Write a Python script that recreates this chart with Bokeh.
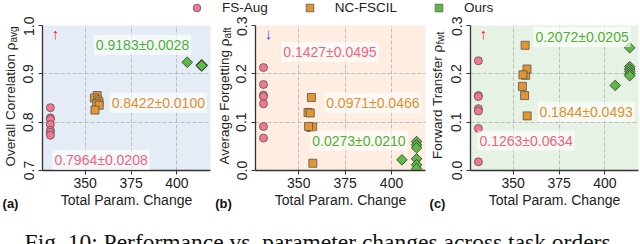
import math
from bokeh.plotting import figure
from bokeh.models import Range1d, Label, Legend, LegendItem, PrintfTickFormatter, FixedTicker
from bokeh.layouts import column, row
from bokeh.embed import file_html
from bokeh.resources import INLINE

# ---------------- data ----------------
methods = ["FS-Aug", "NC-FSCIL", "Ours"]
x_ticks = [350, 375, 400]
y_ticks_avg = [0.7, 0.8, 0.9, 1.0]
y_ticks_rate = [0.0, 0.1, 0.2, 0.3]

fsaug_param = [331.0, 331.0, 331.0, 331.0, 331.0, 331.0, 331.0]
ncfscil_param = [356.5, 355.0, 356.8, 357.5, 356.2, 357.6, 355.3]
ours_param = [405.6, 413.5, 413.5, 413.5, 413.5, 413.5, 413.5]

fsaug_avg = [0.830, 0.809, 0.806, 0.795, 0.783, 0.779, 0.773]
ncfscil_avg = [0.855, 0.850, 0.846, 0.842, 0.838, 0.835, 0.825]
ours_avg = [0.924, 0.919, 0.918, 0.917, 0.917, 0.916, 0.917]

fsaug_aft = [0.213, 0.178, 0.156, 0.153, 0.138, 0.091, 0.067]
ncfscil_aft = [0.089, 0.120, 0.151, 0.090, 0.119, 0.015, 0.091]
ours_aft = [0.022, 0.060, 0.053, 0.047, 0.024, 0.012, 0.004]

fsaug_fwt = [0.227, 0.155, 0.153, 0.128, 0.123, 0.087, 0.018]
ncfscil_fwt = [0.259, 0.174, 0.197, 0.210, 0.155, 0.113, 0.198]
ours_fwt = [0.176, 0.254, 0.215, 0.210, 0.205, 0.200, 0.196]

stats_avg = ["0.7964±0.0208", "0.8422±0.0100", "0.9183±0.0028"]
stats_aft = ["0.1427±0.0495", "0.0971±0.0466", "0.0273±0.0210"]
stats_fwt = ["0.1263±0.0634", "0.1844±0.0493", "0.2072±0.0205"]

caption = "Fig. 10: Performance vs. parameter changes across task orders."

# ---------------- style ----------------
FONT = "Liberation Sans"
PINK, ORANGE, GREEN = "#f4778f", "#e3962f", "#5dbb45"
PINK_T, ORANGE_T, GREEN_T = "#f0627f", "#e08f2e", "#4cb233"
EDGE = "#555555"
XR = (326.7, 418.3)
PH = 197          # panel figure height
TOP, BOT = 9, 40  # borders shared by every figure of the row
SW = 20           # width of the y-label strips
DIAMOND = math.pi / 4


def label_strip(ylab, ysub, junction, lx, tag):
    f = figure(width=SW, height=PH, x_range=Range1d(0, 1), y_range=Range1d(0, 1),
               output_backend="svg", toolbar_location=None,
               min_border_left=0, min_border_right=0,
               min_border_top=TOP, min_border_bottom=BOT,
               y_axis_location=None, outline_line_color=None)
    f.grid.visible = False
    ax = f.xaxis[0]
    ax.ticker = FixedTicker(ticks=[])
    ax.axis_line_color = None
    ax.major_tick_line_color = None
    ax.minor_tick_line_color = None
    ax.major_tick_out = 0
    ax.major_label_standoff = 0
    ax.axis_label = tag
    ax.axis_label_text_font = FONT
    ax.axis_label_text_font_size = "13px"
    ax.axis_label_text_font_style = "bold"
    ax.axis_label_text_color = "#111111"
    ax.axis_label_standoff = 25
    f.add_layout(Label(x=lx, y=junction, x_units="screen", y_units="screen",
                       text=ylab, angle=math.pi / 2, text_align="right",
                       text_baseline="middle", text_font=FONT, text_font_size="13.5px",
                       text_color="#222222"))
    f.add_layout(Label(x=lx + 3, y=junction, x_units="screen", y_units="screen",
                       text=ysub, angle=math.pi / 2, text_align="left",
                       text_baseline="middle", text_font=FONT, text_font_size="10px",
                       text_color="#222222"))
    return f


def panel(width, left, right, yr, yticks, bg, ys, stat_texts, stat_pos, arrow, arrow_color):
    p = figure(width=width, height=PH, x_range=Range1d(*XR), y_range=Range1d(*yr),
               output_backend="svg", toolbar_location=None,
               min_border_left=left, min_border_right=right,
               min_border_top=TOP, min_border_bottom=BOT,
               background_fill_color=bg, border_fill_color="white",
               outline_line_color=None)
    p.xaxis.ticker = x_ticks
    p.yaxis.ticker = yticks
    p.yaxis.formatter = PrintfTickFormatter(format="%.1f")
    p.xaxis.axis_label = "Total Param. Change"
    p.xaxis.axis_label_text_font = FONT
    p.xaxis.axis_label_text_font_style = "normal"
    p.xaxis.axis_label_text_font_size = "14px"
    p.xaxis.axis_label_text_color = "#222222"
    p.xaxis.axis_label_standoff = 1
    for ax in (p.xaxis, p.yaxis):
        ax.major_label_text_font = FONT
        ax.major_label_text_font_size = "14px"
        ax.major_label_text_color = "#222222"
        ax.major_label_standoff = 3
        ax.minor_tick_line_color = None
        ax.major_tick_in = 0
        ax.major_tick_out = 4
        ax.axis_line_color = "#333333"
        ax.axis_line_width = 1.3
        ax.major_tick_line_color = "#333333"
    p.yaxis.major_label_orientation = "vertical"
    p.yaxis.major_label_standoff = 5
    p.grid.grid_line_color = "#bdbdbd"
    p.grid.grid_line_dash = "4 2"
    p.grid.grid_line_width = 1

    p.scatter(fsaug_param, ys[0], marker="circle", size=8, fill_color=PINK,
              line_color=EDGE, line_alpha=0.8, line_width=1)
    p.scatter(ncfscil_param, ys[1], marker="square", size=8, fill_color=ORANGE,
              line_color=EDGE, line_alpha=0.8, line_width=1)
    p.scatter(ours_param, ys[2], marker="square", angle=DIAMOND, size=7.5, fill_color=GREEN,
              line_color="#3a3a3a", line_alpha=0.85, line_width=1)

    for txt, (sx, sy), col in zip(stat_texts, stat_pos, [PINK_T, ORANGE_T, GREEN_T]):
        p.add_layout(Label(x=sx, y=sy, text=txt, text_align="left", text_baseline="middle",
                           text_font=FONT, text_font_size="14px", text_color=col,
                           background_fill_color="white", background_fill_alpha=0.65,
                           padding=2))
    p.add_layout(Label(x=13, y=137, x_units="screen", y_units="screen", text=arrow,
                       text_align="center", text_baseline="middle", text_font=FONT,
                       text_font_size="15px", text_color=arrow_color))
    return p


la = label_strip("Overall Correlation ρ", "avg", 128, 10, "(a)")
pa = panel(193, 20, 3, (0.7, 1.0), y_ticks_avg, "#e4edf6",
           [fsaug_avg, ncfscil_avg, ours_avg], stats_avg,
           [(332.1, 0.722), (363.3, 0.840), (354.7, 0.9595)], "↑", "#ff2a2a")
lb = label_strip("Average Forgetting ρ", "aft", 132, 11, "(b)")
pb = panel(194, 21, 2, (0.0, 0.3), y_ticks_rate, "#fdeee1",
           [fsaug_aft, ncfscil_aft, ours_aft], stats_aft,
           [(340.6, 0.245), (363.7, 0.140), (356.2, 0.0614)], "↓", "#3b4cff")
lc = label_strip("Forward Transfer ρ", "fwt", 126, 10, "(c)")
pc = panel(193, 23, 2, (0.0, 0.3), y_ticks_rate, "#e6f2e3",
           [fsaug_fwt, ncfscil_fwt, ours_fwt], stats_fwt,
           [(330.5, 0.0614), (363.2, 0.1216), (361.0, 0.2763)], "↑", "#ff2a2a")

# ---------------- legend strip ----------------
lf = figure(width=640, height=16, x_range=Range1d(0, 1), y_range=Range1d(0, 1),
            output_backend="svg", toolbar_location=None, min_border=0,
            x_axis_location=None, y_axis_location=None, outline_line_color=None)
lf.grid.visible = False
# renderers fed with the real data; it falls outside this strip's range, only the legend shows
r1 = lf.scatter(fsaug_param, fsaug_avg, marker="circle", size=8, fill_color=PINK,
                line_color=EDGE, line_alpha=0.8)
r2 = lf.scatter(ncfscil_param, ncfscil_avg, marker="square", size=8, fill_color=ORANGE,
                line_color=EDGE, line_alpha=0.8)
r3 = lf.scatter(ours_param, ours_avg, marker="square", angle=DIAMOND, size=7.5,
                fill_color=GREEN, line_color=EDGE, line_alpha=0.8)
leg = Legend(items=[LegendItem(label=m, renderers=[r]) for m, r in zip(methods, [r1, r2, r3])],
             orientation="horizontal", location=(187, -1), padding=0, margin=0,
             spacing=32, glyph_width=19, glyph_height=19, label_standoff=16,
             label_text_font=FONT, label_text_font_size="13.5px", label_text_color="#222222",
             border_line_color=None, background_fill_alpha=0)
lf.add_layout(leg)

# ---------------- caption strip ----------------
cf = figure(width=640, height=31, x_range=Range1d(0, 1), y_range=Range1d(0, 1),
            output_backend="svg", toolbar_location=None, min_border=0,
            x_axis_location=None, y_axis_location=None, outline_line_color=None)
cf.grid.visible = False
cf.add_layout(Label(x=320, y=3, x_units="screen", y_units="screen", text=caption,
                    text_align="center", text_baseline="alphabetic",
                    text_font="Liberation Serif", text_font_size="23.5px",
                    text_color="#111111"))

layout = column(lf, row(la, pa, lb, pb, lc, pc), cf)

open("out.html", "w").write(file_html(layout, INLINE))
